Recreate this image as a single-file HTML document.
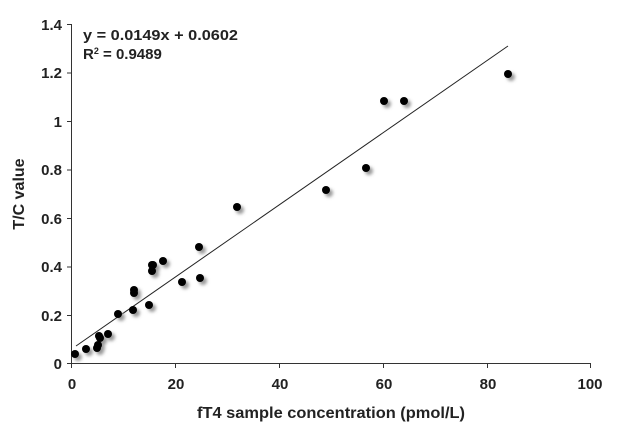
<!DOCTYPE html>
<html><head><meta charset="utf-8"><style>body{margin:0;background:#fff}</style></head><body>
<svg width="621" height="432" viewBox="0 0 621 432" xmlns="http://www.w3.org/2000/svg" font-family="Liberation Sans, sans-serif">
<defs><filter id="s" x="-1" y="-1" width="3" height="3"><feGaussianBlur stdDeviation="1.5"/></filter></defs>
<g stroke="#333" stroke-width="1" fill="none">
<line x1="71.5" y1="24" x2="71.5" y2="364"/>
<line x1="71.5" y1="363.5" x2="591" y2="363.5"/>
<line x1="67" y1="24.5" x2="71.5" y2="24.5"/><line x1="67" y1="73" x2="71.5" y2="73"/><line x1="67" y1="121.5" x2="71.5" y2="121.5"/><line x1="67" y1="170" x2="71.5" y2="170"/><line x1="67" y1="218.5" x2="71.5" y2="218.5"/><line x1="67" y1="267" x2="71.5" y2="267"/><line x1="67" y1="315.5" x2="71.5" y2="315.5"/><line x1="67" y1="363.5" x2="71.5" y2="363.5"/>
<line x1="71.5" y1="364" x2="71.5" y2="368"/><line x1="175.5" y1="364" x2="175.5" y2="368"/><line x1="279.5" y1="364" x2="279.5" y2="368"/><line x1="383.5" y1="364" x2="383.5" y2="368"/><line x1="487.5" y1="364" x2="487.5" y2="368"/><line x1="590.5" y1="364" x2="590.5" y2="368"/>
</g>
<g font-size="15" font-weight="bold" fill="#222" text-anchor="end">
<text x="62" y="30">1.4</text><text x="62" y="78">1.2</text><text x="62" y="127">1</text><text x="62" y="175">0.8</text><text x="62" y="224">0.6</text><text x="62" y="272">0.4</text><text x="62" y="321">0.2</text><text x="62" y="369">0</text>
</g>
<g font-size="15" font-weight="bold" fill="#222" text-anchor="middle">
<text x="72" y="389">0</text><text x="176" y="389">20</text><text x="280" y="389">40</text><text x="384" y="389">60</text><text x="488" y="389">80</text><text x="590" y="389">100</text>
<text x="331" y="418" font-size="16" textLength="268" lengthAdjust="spacingAndGlyphs">fT4 sample concentration (pmol/L)</text>
<text transform="translate(24,194) rotate(-90)" font-size="16">T/C value</text>
</g>
<g font-size="15" font-weight="bold" fill="#222">
<text x="83" y="40" textLength="155" lengthAdjust="spacingAndGlyphs">y = 0.0149x + 0.0602</text>
<text x="83" y="59">R<tspan font-size="9" dy="-5">2</tspan><tspan dy="5"> = 0.9489</tspan></text>
</g>
<line x1="76" y1="346" x2="508" y2="46" stroke="#222" stroke-width="1"/>
<g fill="#999" filter="url(#s)">
<circle cx="78" cy="357" r="4"/><circle cx="89" cy="352" r="4"/><circle cx="100" cy="351" r="4"/><circle cx="101" cy="348" r="4"/><circle cx="103" cy="341" r="4"/><circle cx="102" cy="339" r="4"/><circle cx="111" cy="337" r="4"/><circle cx="121" cy="317" r="4"/><circle cx="136" cy="313" r="4"/><circle cx="137" cy="296" r="4"/><circle cx="137" cy="293" r="4"/><circle cx="152" cy="308" r="4"/><circle cx="155" cy="274" r="4"/><circle cx="155" cy="268" r="4"/><circle cx="156" cy="268" r="4"/><circle cx="166" cy="264" r="4"/><circle cx="185" cy="285" r="4"/><circle cx="202" cy="250" r="4"/><circle cx="203" cy="281" r="4"/><circle cx="240" cy="210" r="4"/><circle cx="329" cy="193" r="4"/><circle cx="369" cy="171" r="4"/><circle cx="387" cy="104" r="4"/><circle cx="407" cy="104" r="4"/><circle cx="511" cy="77" r="4"/>
</g>
<g fill="#000">
<circle cx="75" cy="354" r="4"/><circle cx="86" cy="349" r="4"/><circle cx="97" cy="348" r="4"/><circle cx="98" cy="345" r="4"/><circle cx="100" cy="338" r="4"/><circle cx="99" cy="336" r="4"/><circle cx="108" cy="334" r="4"/><circle cx="118" cy="314" r="4"/><circle cx="133" cy="310" r="4"/><circle cx="134" cy="293" r="4"/><circle cx="134" cy="290" r="4"/><circle cx="149" cy="305" r="4"/><circle cx="152" cy="271" r="4"/><circle cx="152" cy="265" r="4"/><circle cx="153" cy="265" r="4"/><circle cx="163" cy="261" r="4"/><circle cx="182" cy="282" r="4"/><circle cx="199" cy="247" r="4"/><circle cx="200" cy="278" r="4"/><circle cx="237" cy="207" r="4"/><circle cx="326" cy="190" r="4"/><circle cx="366" cy="168" r="4"/><circle cx="384" cy="101" r="4"/><circle cx="404" cy="101" r="4"/><circle cx="508" cy="74" r="4"/>
</g>
</svg>
</body></html>
